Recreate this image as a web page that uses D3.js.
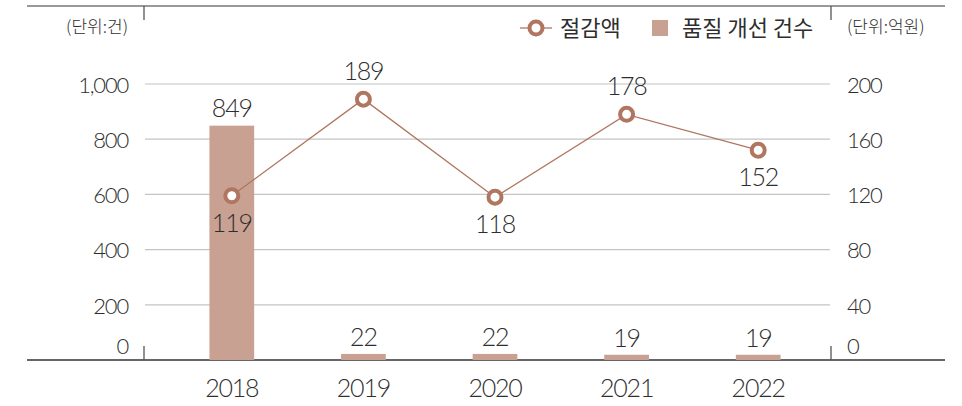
<!DOCTYPE html>
<html>
<head>
<meta charset="utf-8">
<script src="https://cdn.jsdelivr.net/npm/d3@7"></script>
<style>
body { margin: 0; background: #fff; }
svg text { font-family: "Noto Sans CJK KR", "Noto Sans", sans-serif; fill: #2e2e2e; }
svg text.num { font-family: "Lato", "Noto Sans", sans-serif; font-weight: 300; letter-spacing: -1.2px; }
</style>
</head>
<body>
<div id="chart"></div>
<script>
// data
var years = ["2018", "2019", "2020", "2021", "2022"];
var cases = [849, 22, 22, 19, 19];         // 품질 개선 건수 (건)
var savings = [119, 189, 118, 178, 152];   // 절감액 (억원)
var savingsLabelPos = ["below", "above", "below", "above", "below"];
var leftTicks = [0, 200, 400, 600, 800, 1000];
var rightTicks = [0, 40, 80, 120, 160, 200];

var width = 962, height = 406;
var barColor = "#c8a193";
var lineColor = "#b07660";

var svg = d3.select("#chart").append("svg")
	.attr("width", width)
	.attr("height", height);

//Scales
var xScale = d3.scaleBand()
	.domain(years)
	.range([166, 824])
	.paddingInner(0.66)
	.paddingOuter(0.33);

var yLeft = d3.scaleLinear().domain([0, 1000]).range([360, 84]);
var yRight = d3.scaleLinear().domain([0, 200]).range([360, 84]);

//Gridlines
svg.selectAll("line.grid")
	.data(leftTicks.filter(function(d) { return d > 0; }))
	.enter()
	.append("line")
	.attr("class", "grid")
	.attr("x1", 145).attr("x2", 830)
	.attr("y1", function(d) { return yLeft(d); })
	.attr("y2", function(d) { return yLeft(d); })
	.attr("stroke", "#c4c4c4")
	.attr("stroke-width", 1.2);

//Frame lines
svg.append("line").attr("x1", 27).attr("x2", 945).attr("y1", 6).attr("y2", 6)
	.attr("stroke", "#777").attr("stroke-width", 1.3);
svg.append("line").attr("x1", 27).attr("x2", 945).attr("y1", 360).attr("y2", 360)
	.attr("stroke", "#333").attr("stroke-width", 1.3);
[144, 831].forEach(function(x) {
	svg.append("line").attr("x1", x).attr("x2", x).attr("y1", 6).attr("y2", 20)
		.attr("stroke", "#555").attr("stroke-width", 1.3);
	svg.append("line").attr("x1", x).attr("x2", x).attr("y1", 346).attr("y2", 360)
		.attr("stroke", "#555").attr("stroke-width", 1.3);
});

//Axis labels (left & right)
svg.selectAll("text.lt")
	.data(leftTicks)
	.enter()
	.append("text")
	.attr("class", "lt num")
	.attr("x", 128)
	.attr("y", function(d) { return d === 0 ? 346 : yLeft(d) + 1; })
	.attr("dy", "0.35em")
	.attr("text-anchor", "end")
	.attr("font-size", 22)
	.text(function(d) { return d3.format(",")(d); });

svg.selectAll("text.rt")
	.data(rightTicks)
	.enter()
	.append("text")
	.attr("class", "rt num")
	.attr("x", 847)
	.attr("y", function(d) { return d === 0 ? 346 : yRight(d) + 1; })
	.attr("dy", "0.35em")
	.attr("font-size", 22)
	.text(function(d) { return d; });

//Units
svg.append("text").attr("x", 128).attr("y", 27).attr("dy", "0.35em")
	.attr("text-anchor", "end").attr("font-size", 17).attr("font-weight", 300)
	.text("(단위:건)");
svg.append("text").attr("x", 847).attr("y", 27).attr("dy", "0.35em")
	.attr("font-size", 17).attr("font-weight", 300)
	.text("(단위:억원)");

//Bars
svg.selectAll("rect.bar")
	.data(cases)
	.enter()
	.append("rect")
	.attr("class", "bar")
	.attr("x", function(d, i) { return xScale(years[i]); })
	.attr("y", function(d) { return yLeft(d); })
	.attr("width", xScale.bandwidth())
	.attr("height", function(d) { return 360 - yLeft(d); })
	.attr("fill", barColor);

svg.selectAll("text.barLabel")
	.data(cases)
	.enter()
	.append("text")
	.attr("class", "barLabel num")
	.attr("x", function(d, i) { return xScale(years[i]) + xScale.bandwidth() / 2; })
	.attr("y", function(d) { return yLeft(d) - 17; })
	.attr("dy", "0.35em")
	.attr("text-anchor", "middle")
	.attr("font-size", 25)
	.text(function(d) { return d; });

//Line
var cx = function(i) { return xScale(years[i]) + xScale.bandwidth() / 2; };
var line = d3.line()
	.x(function(d, i) { return cx(i); })
	.y(function(d) { return yRight(d); });

svg.append("path")
	.datum(savings)
	.attr("d", line)
	.attr("fill", "none")
	.attr("stroke", lineColor)
	.attr("stroke-width", 1.3);

svg.selectAll("circle.pt")
	.data(savings)
	.enter()
	.append("circle")
	.attr("class", "pt")
	.attr("cx", function(d, i) { return cx(i); })
	.attr("cy", function(d) { return yRight(d); })
	.attr("r", 6.5)
	.attr("fill", "#fff")
	.attr("stroke", lineColor)
	.attr("stroke-width", 4);

svg.selectAll("text.ptLabel")
	.data(savings)
	.enter()
	.append("text")
	.attr("class", "ptLabel num")
	.attr("x", function(d, i) { return cx(i); })
	.attr("y", function(d, i) { return yRight(d) + (savingsLabelPos[i] === "above" ? -28 : 27); })
	.attr("dy", "0.35em")
	.attr("text-anchor", "middle")
	.attr("font-size", 25)
	.text(function(d) { return d; });

//X labels
svg.selectAll("text.xl")
	.data(years)
	.enter()
	.append("text")
	.attr("class", "xl num")
	.attr("x", function(d) { return xScale(d) + xScale.bandwidth() / 2; })
	.attr("y", 388)
	.attr("dy", "0.35em")
	.attr("text-anchor", "middle")
	.attr("font-size", 25)
	.text(function(d) { return d; });

//Legend
var legend = svg.append("g");
legend.append("line").attr("x1", 520).attr("x2", 552).attr("y1", 28).attr("y2", 28)
	.attr("stroke", lineColor).attr("stroke-width", 1.3);
legend.append("circle").attr("cx", 536).attr("cy", 28).attr("r", 6.5)
	.attr("fill", "#fff").attr("stroke", lineColor).attr("stroke-width", 4);
legend.append("text").attr("x", 560).attr("y", 28).attr("dy", "0.35em")
	.attr("font-size", 22).attr("font-weight", 400)
	.text("절감액");
legend.append("rect").attr("x", 652).attr("y", 20).attr("width", 16).attr("height", 16)
	.attr("fill", barColor);
legend.append("text").attr("x", 682).attr("y", 28).attr("dy", "0.35em")
	.attr("font-size", 22).attr("font-weight", 400)
	.text("품질 개선 건수");
</script>
</body>
</html>
